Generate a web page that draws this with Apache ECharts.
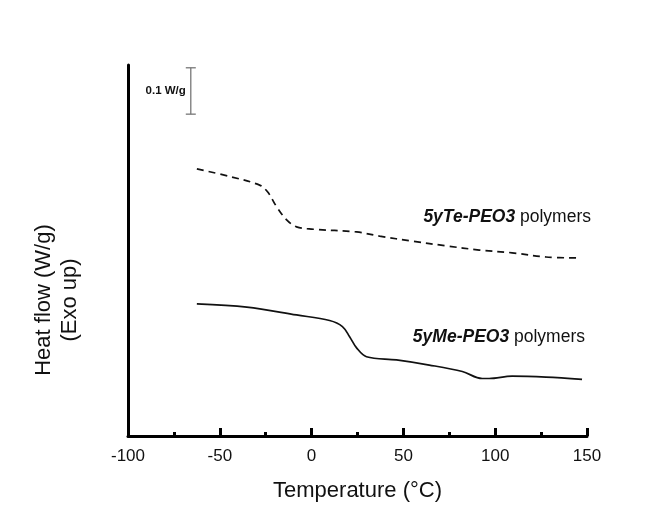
<!DOCTYPE html>
<html><head><meta charset="utf-8">
<script src="https://cdn.jsdelivr.net/npm/echarts@6/dist/echarts.min.js"></script>
<style>html,body{margin:0;padding:0;background:#fff}#c{width:669px;height:510px}</style>
</head><body><div id="c"></div>
<script>
// Temperature (°C) and heat flow (W/g, arbitrary offset)
const teTemp = [-62.5, -45, -28.3, -23.9, -19.0, -13.6, -8.2, 0.5, 24.5, 37, 55, 73.4, 91.3, 109.2, 127.7, 145.7];
const teFlow = [0.576, 0.560, 0.541, 0.526, 0.494, 0.466, 0.451, 0.446, 0.440, 0.431, 0.420, 0.410, 0.401, 0.395, 0.386, 0.384];
const meTemp = [-62.5, -35.3, -8.2, 9.8, 16.8, 20.7, 24.5, 29.9, 46.2, 64.1, 82.1, 92.9, 96.7, 109.2, 127.7, 147.3];
const meFlow = [0.285, 0.278, 0.261, 0.249, 0.236, 0.214, 0.190, 0.171, 0.164, 0.153, 0.139, 0.124, 0.124, 0.129, 0.127, 0.122];
const xTicks = [-100, -50, 0, 50, 100, 150];
const scaleBarX = -65.8, scaleBarLow = 0.694, scaleBarHigh = 0.794;

const chart = echarts.init(document.getElementById('c'));
const zip = (a, b) => a.map((v, i) => [v, b[i]]);
const font = 'Liberation Sans';
chart.setOption({
  animation: false,
  backgroundColor: '#fff',
  grid: { left: 128, right: 82, top: 65, bottom: 74 },
  xAxis: {
    type: 'value', min: -100, max: 150, interval: 50,
    name: 'Temperature (°C)', nameLocation: 'middle', nameGap: 44,
    nameTextStyle: { fontFamily: font, fontSize: 22, color: '#111' },
    axisLine: { onZero: false, lineStyle: { color: '#000', width: 3 } },
    axisTick: { inside: true, length: 8, lineStyle: { color: '#000', width: 3 } },
    minorTick: { show: true, splitNumber: 2, length: 4, lineStyle: { color: '#000', width: 3 } },
    axisLabel: { fontFamily: font, fontSize: 17, color: '#111', margin: 12,
      formatter: v => xTicks.includes(v) ? String(v) : '' },
    splitLine: { show: false }
  },
  yAxis: {
    type: 'value', min: 0, max: 0.8,
    axisLine: { show: true, onZero: false, lineStyle: { color: '#000', width: 3 } },
    axisTick: { show: false }, axisLabel: { show: false }, splitLine: { show: false }
  },
  graphic: [
    { type: 'text', rotation: Math.PI / 2, x: 57, y: 300,
      style: { text: 'Heat flow (W/g)\n(Exo up)', fontFamily: font, fontSize: 22,
        fill: '#111', align: 'center', verticalAlign: 'middle', lineHeight: 26 } },
    { type: 'text', x: 591, y: 217,
      style: { text: '{b|5yTe-PEO3}{n| polymers}', align: 'right', verticalAlign: 'middle',
        rich: { b: { fontFamily: font, fontSize: 17.5, fontWeight: 'bold', fontStyle: 'italic', fill: '#111' },
                n: { fontFamily: font, fontSize: 17.5, fill: '#111' } } } },
    { type: 'text', x: 585, y: 337,
      style: { text: '{b|5yMe-PEO3}{n| polymers}', align: 'right', verticalAlign: 'middle',
        rich: { b: { fontFamily: font, fontSize: 17.5, fontWeight: 'bold', fontStyle: 'italic', fill: '#111' },
                n: { fontFamily: font, fontSize: 17.5, fill: '#111' } } } }
  ],
  series: [
    { type: 'line', data: zip(teTemp, teFlow), smooth: 0.35, showSymbol: false,
      lineStyle: { color: '#111', width: 1.7, type: [7, 5] } },
    { type: 'line', data: zip(meTemp, meFlow), smooth: 0.35, showSymbol: false,
      lineStyle: { color: '#111', width: 1.7 } },
    { type: 'custom', data: [[scaleBarX, scaleBarLow, scaleBarHigh]],
      renderItem: (params, api) => {
        const lo = api.coord([api.value(0), api.value(1)]);
        const hi = api.coord([api.value(0), api.value(2)]);
        const st = { stroke: '#777', lineWidth: 1.3 };
        return { type: 'group', children: [
          { type: 'line', shape: { x1: lo[0], y1: lo[1], x2: hi[0], y2: hi[1] }, style: st },
          { type: 'line', shape: { x1: lo[0] - 5, y1: lo[1], x2: lo[0] + 5, y2: lo[1] }, style: st },
          { type: 'line', shape: { x1: hi[0] - 5, y1: hi[1], x2: hi[0] + 5, y2: hi[1] }, style: st },
          { type: 'text', style: { text: '0.1 W/g', x: lo[0] - 5, y: (lo[1] + hi[1]) / 2,
              align: 'right', verticalAlign: 'middle', fontFamily: font,
              fontSize: 11.5, fontWeight: 'bold', fill: '#111' } }
        ] };
      } }
  ]
});
</script></body></html>
